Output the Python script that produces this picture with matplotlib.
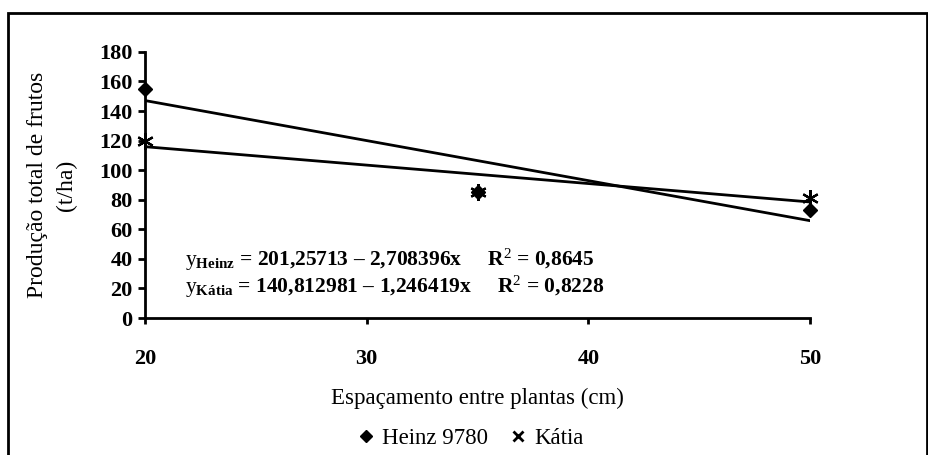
import matplotlib
matplotlib.use("Agg")
import matplotlib.pyplot as plt
from matplotlib.lines import Line2D
from matplotlib.patches import Rectangle
import numpy as np

plt.rcParams['font.family'] = ['Liberation Serif', 'DejaVu Serif']
plt.rcParams['mathtext.fontset'] = 'custom'
plt.rcParams['mathtext.rm'] = 'Liberation Serif'
plt.rcParams['mathtext.it'] = 'Liberation Serif:italic'
plt.rcParams['mathtext.bf'] = 'Liberation Serif:bold'

# Data
espacamento = [20, 35, 50]
heinz = [155, 85, 73]
katia = [120, 85, 81]
heinz_coef = (201.25713, -2.708396)
katia_coef = (140.812981, -1.246419)
x_ticks = [20, 30, 40, 50]
y_ticks = list(range(0, 181, 20))

fig = plt.figure(figsize=(9.29, 4.55), dpi=100)
ax = fig.add_axes([0.156, 0.301, 0.716, 0.585])

# outer frame
fig.patches.append(Rectangle((8 / 929, -0.05), (927 - 8) / 929, 1.05 - 13 / 455,
                             transform=fig.transFigure, fill=False,
                             edgecolor='black', linewidth=2))

xl = np.array([20, 50])
ax.plot(xl, heinz_coef[0] + heinz_coef[1] * xl, color='black', lw=2, zorder=2)
ax.plot(xl, katia_coef[0] + katia_coef[1] * xl, color='black', lw=2, zorder=2)
ax.plot(espacamento, heinz, linestyle='none', marker='D', color='black', ms=7,
        clip_on=False, zorder=3)
ax.plot(espacamento, katia, linestyle='none', marker=(6, 2, 0), color='black', ms=12,
        mew=1.6, clip_on=False, zorder=3)

ax.set_xlim(20, 50)
ax.set_ylim(0, 180)
ax.set_xticks(x_ticks)
ax.set_yticks(y_ticks)
for s in ['top', 'right']:
    ax.spines[s].set_visible(False)
for s in ['left', 'bottom']:
    ax.spines[s].set_linewidth(2)
ax.tick_params(axis='x', direction='out', length=4, width=2, pad=18, labelsize=16)
ax.tick_params(axis='y', direction='out', length=5, width=2, pad=4, labelsize=16)
for lab in ax.get_xticklabels() + ax.get_yticklabels():
    lab.set_fontweight('bold')

ax.set_xlabel('Espaçamento entre plantas (cm)', fontsize=16.5, labelpad=14)
ax.set_ylabel('Produção total de frutos\n(t/ha)', fontsize=17, labelpad=16,
              linespacing=1.5)

ax.text(21.8, 39.5, r'$\mathrm{y}_{\mathbf{Heinz}}$ = 201,25713 – 2,708396x     R$^2$ = 0,8645',
        fontsize=15.5, fontweight='bold', va='center')
ax.text(21.8, 21.0, r'$\mathrm{y}_{\mathbf{Kátia}}$ = 140,812981 – 1,246419x     R$^2$ = 0,8228',
        fontsize=15.5, fontweight='bold', va='center')

handles = [Line2D([], [], linestyle='none', marker='D', color='black', ms=6),
           Line2D([], [], linestyle='none', marker='x', color='black', ms=7, mew=2)]
fig.legend(handles, ['Heinz 9780', 'Kátia'], loc='center', bbox_to_anchor=(0.506, 1 - 438 / 455),
           ncol=2, frameon=False, fontsize=16.5, handlelength=0.8, handletextpad=0.3,
           columnspacing=0.9)

fig.savefig('out.png', dpi=100)
